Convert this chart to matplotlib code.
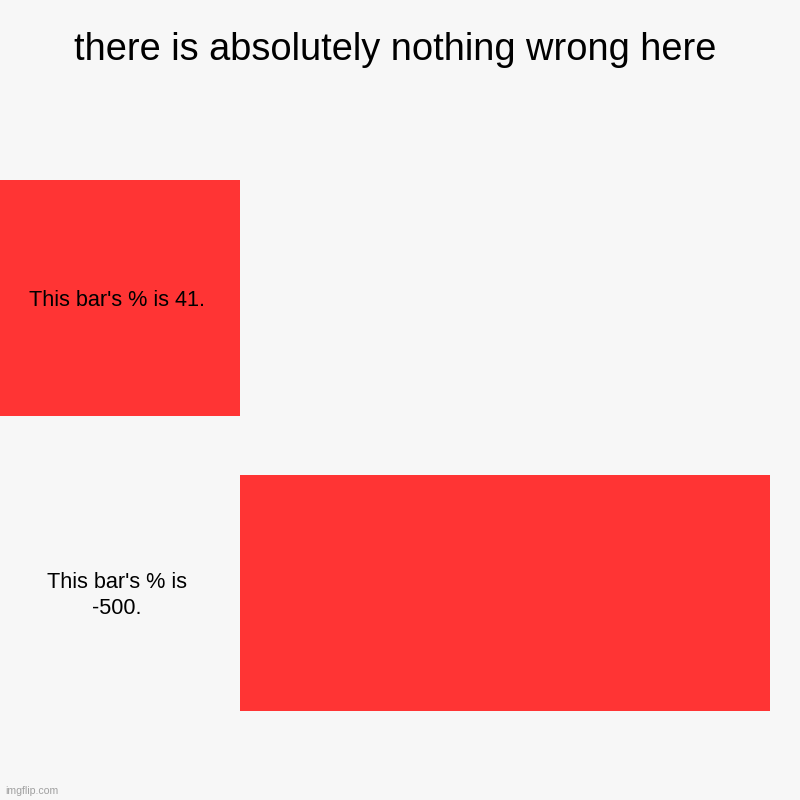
import matplotlib
matplotlib.use("Agg")
import matplotlib.pyplot as plt
import matplotlib.transforms as mtransforms

TITLE = "there is absolutely nothing wrong here"
labels = ["This bar's % is 41.", "This bar's % is\n-500."]
values = [41, -500]
# where each bar ends up, in % of the plot width
bar_left = [-45.3, 0.0]
bar_width = [45.3, 100.0]

BG = "#f7f7f7"
RED = "#ff3434"

plt.rcParams["font.family"] = ["Liberation Sans", "DejaVu Sans"]

fig = plt.figure(figsize=(8, 8), dpi=100, facecolor=BG)
ax = fig.add_axes([240 / 800, 1 - 740.5 / 800, 530 / 800, 590 / 800])
ax.set_facecolor(BG)

pos = list(range(len(values)))
ax.barh(pos, bar_width, left=bar_left, height=0.8, color=RED, clip_on=False)
ax.set_xlim(0, 100)
ax.set_ylim(len(values) - 0.5, -0.5)
ax.axis("off")

# category labels sit in the left column, centred
trans = mtransforms.blended_transform_factory(fig.transFigure, ax.transData)
for p, lab in zip(pos, labels):
    ax.text(117 / 800, p + 0.008, lab, transform=trans, ha="center", va="center",
            fontsize=15.6, color="black", linespacing=1.3)

fig.text(0.494, 1 - 50 / 800, TITLE, ha="center", va="center", fontsize=27.4)
fig.text(5 / 800, 1 - 791 / 800, "imgflip.com", ha="left", va="center",
         fontsize=7.6, color="#a0a0a0")

fig.savefig("out.png", dpi=100, facecolor=BG)
